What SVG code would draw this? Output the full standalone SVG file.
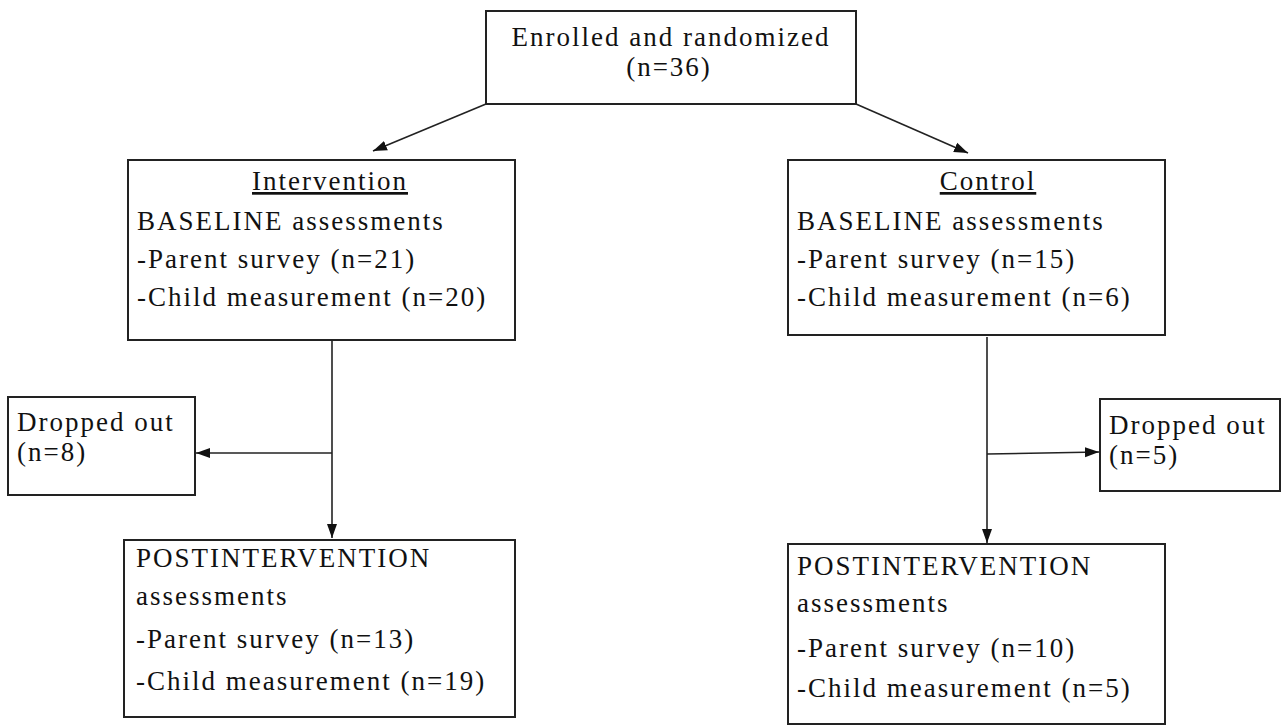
<svg xmlns="http://www.w3.org/2000/svg" width="1284" height="726" viewBox="0 0 1284 726">
<style>
.box{fill:#fff;stroke:#222;stroke-width:2}
.t{font-family:"Liberation Serif","Times New Roman",serif;font-size:27px;letter-spacing:2px;fill:#111}
.c{text-anchor:middle}
.ln{stroke:#222;stroke-width:1.6;fill:none}
</style>
<defs>
<marker id="ah" viewBox="0 0 14 10" refX="14" refY="5" markerWidth="14" markerHeight="11" markerUnits="userSpaceOnUse" orient="auto">
<path d="M0,0 L14,5 L0,10 z" fill="#111"/>
</marker>
</defs>
<rect width="1284" height="726" fill="#fff"/>
<g id="connectors">
<line class="ln" x1="486" y1="104" x2="373" y2="151" marker-end="url(#ah)"/>
<line class="ln" x1="856" y1="104" x2="968" y2="153" marker-end="url(#ah)"/>
<line class="ln" x1="332" y1="341" x2="332" y2="538" marker-end="url(#ah)"/>
<line class="ln" x1="332" y1="453" x2="196" y2="453" marker-end="url(#ah)"/>
<line class="ln" x1="987" y1="337" x2="987" y2="543" marker-end="url(#ah)"/>
<line class="ln" x1="987" y1="454" x2="1099" y2="452" marker-end="url(#ah)"/>
</g>
<g id="enrolled">
<rect class="box" x="486" y="11" width="370" height="93"/>
<text class="t c" x="671" y="46">Enrolled and randomized</text>
<text class="t c" x="669" y="76">(n=36)</text>
</g>
<g id="intervention">
<rect class="box" x="128" y="160" width="387" height="180"/>
<text class="t c" x="330" y="190" text-decoration="underline">Intervention</text>
<text class="t" x="137" y="230">BASELINE assessments</text>
<text class="t" x="137" y="268">-Parent survey (n=21)</text>
<text class="t" x="137" y="306">-Child measurement (n=20)</text>
</g>
<g id="control">
<rect class="box" x="788" y="160" width="377" height="175"/>
<text class="t c" x="988" y="190" text-decoration="underline">Control</text>
<text class="t" x="797" y="230">BASELINE assessments</text>
<text class="t" x="797" y="268">-Parent survey (n=15)</text>
<text class="t" x="797" y="306">-Child measurement (n=6)</text>
</g>
<g id="dropped-left">
<rect class="box" x="8" y="397" width="187" height="98"/>
<text class="t" x="17" y="431">Dropped out</text>
<text class="t" x="17" y="461">(n=8)</text>
</g>
<g id="dropped-right">
<rect class="box" x="1100" y="399" width="180" height="92"/>
<text class="t" x="1109" y="434">Dropped out</text>
<text class="t" x="1109" y="464">(n=5)</text>
</g>
<g id="post-intervention">
<rect class="box" x="124" y="540" width="391" height="177"/>
<text class="t" x="136" y="567">POSTINTERVENTION</text>
<text class="t" x="136" y="605">assessments</text>
<text class="t" x="136" y="648">-Parent survey (n=13)</text>
<text class="t" x="136" y="690">-Child measurement (n=19)</text>
</g>
<g id="post-control">
<rect class="box" x="788" y="544" width="377" height="180"/>
<text class="t" x="797" y="575">POSTINTERVENTION</text>
<text class="t" x="797" y="612">assessments</text>
<text class="t" x="797" y="657">-Parent survey (n=10)</text>
<text class="t" x="797" y="697">-Child measurement (n=5)</text>
</g>
</svg>
